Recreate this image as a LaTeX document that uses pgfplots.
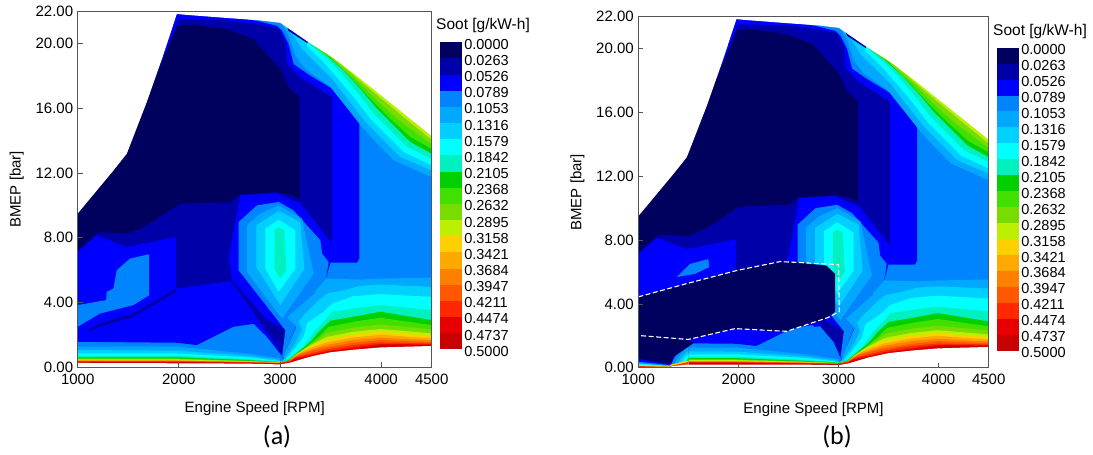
\documentclass[border=0pt]{standalone}
\usepackage{fontspec}
\setmainfont{Liberation Sans}
\newfontfamily\capfont{Carlito}
\usepackage{pgfplots}
\pgfplotsset{compat=1.18}
\definecolor{c0}{HTML}{00005F}
\definecolor{c1}{HTML}{0000A8}
\definecolor{c2}{HTML}{0000FF}
\definecolor{c3}{HTML}{0085FF}
\definecolor{c4}{HTML}{00A8FF}
\definecolor{c5}{HTML}{00D0FF}
\definecolor{c6}{HTML}{00FFFF}
\definecolor{c7}{HTML}{00F0C0}
\definecolor{c8}{HTML}{00D000}
\definecolor{c9}{HTML}{40E000}
\definecolor{c10}{HTML}{78DC00}
\definecolor{c11}{HTML}{BCF000}
\definecolor{c12}{HTML}{FFD000}
\definecolor{c13}{HTML}{FFA800}
\definecolor{c14}{HTML}{FF8000}
\definecolor{c15}{HTML}{FF5800}
\definecolor{c16}{HTML}{FF2800}
\definecolor{c17}{HTML}{E80000}
\definecolor{c18}{HTML}{C80000}
\definecolor{frame}{HTML}{555555}
\newcommand\lab{\fontsize{14.5}{16}\selectfont}
\newcommand\labb{\fontsize{15}{17}\selectfont}
\newcommand\tit{\fontsize{15.5}{17}\selectfont}
\pgfplotsset{
  r/.style={draw=none,fill=#1,forget plot,mark=none},
  map/.style={
    scale only axis, xmin=1000, xmax=4500, ymin=0, ymax=22,
    axis on top, clip=true,
    axis line style={draw=frame,line width=.8pt},
    xtick={1000,2000,3000,4000,4500},
    xticklabels={1000,2000,3000,4000,4500},
    ytick={0,4,8,12,16,20,22},
    yticklabels={0.00,4.00,8.00,12.00,16.00,20.00,\raisebox{-2pt}{22.00}},
    tick style={draw=frame,line width=.7pt},
    tick align=inside, major tick length=5pt,
    xtick pos=bottom, ytick pos=left,
    tick label style={font=\labb},
    xticklabel style={yshift=-3pt},
    yticklabel style={xshift=-1pt},
    label style={font=\labb},
  },
  cbar/.style={
    scale only axis, xmin=0, xmax=1, ymin=0, ymax=19, y dir=reverse,
    axis line style={draw=none},
    xtick=\empty,
    ytick={0,...,19},
    yticklabels={0.0000,0.0263,0.0526,0.0789,0.1053,0.1316,0.1579,0.1842,0.2105,0.2368,0.2632,0.2895,0.3158,0.3421,0.3684,0.3947,0.4211,0.4474,0.4737,0.5000},
    ytick pos=right, yticklabel pos=right,
    major tick length=0pt,
    tick label style={font=\lab},
    yticklabel style={xshift=-1.5pt,yshift=-2pt},
  },
}
\newcommand\upperlayers{%
\addplot[r=c11] coordinates {(1000,22)(4500,22)(4500,0)(1000,0)};
\addplot[r=c10] coordinates {(1000,22)(3284,22)(3284,20.10)(3564,18.95)(3828,17.51)(4026,16.48)(4224,15.45)(4500,14.05)(4500,0)(1000,0)};
\addplot[r=c9] coordinates {(1000,22)(3284,22)(3284,20.10)(3531,18.95)(3762,17.72)(3960,16.48)(4158,15.35)(4500,13.77)(4500,0)(1000,0)};
\addplot[r=c8] coordinates {(1000,22)(3284,22)(3284,20.06)(3498,19.16)(3696,17.92)(3894,16.58)(4092,15.35)(4290,14.22)(4500,13.50)(4500,0)(1000,0)};
\addplot[r=c7] coordinates {(1000,22)(3300,22)(3300,20.02)(3465,19.26)(3630,18.33)(3795,17.20)(3960,15.97)(4125,14.94)(4290,13.91)(4500,13.19)(4500,0)(1000,0)};
\addplot[r=c6] coordinates {(1000,22)(3300,22)(3300,19.94)(3449,19.16)(3597,18.23)(3762,17.00)(3927,15.66)(4092,14.63)(4257,13.60)(4500,12.88)(4500,0)(1000,0)};
\addplot[r=c5] coordinates {(1000,22)(3267,22)(3267,19.84)(3416,18.95)(3548,18.02)(3729,16.69)(3894,15.35)(4059,14.32)(4224,13.29)(4500,12.47)(4500,0)(1000,0)};
\addplot[r=c4] coordinates {(1000,22)(3053,22)(3053,21.01)(3135,20.49)(3218,19.67)(3366,18.74)(3515,17.82)(3680,16.48)(3861,15.04)(4026,14.01)(4191,12.98)(4500,12.16)(4500,0)(1000,0)};
\addplot[r=c3] coordinates {(1000,22)(3010,22)(3010,21.32)(3086,20.49)(3152,19.26)(3251,18.44)(3482,17.41)(3630,16.28)(3795,14.94)(3960,13.81)(4125,12.78)(4500,11.75)(4500,0)(1000,0)};
% 0.0526 field
\addplot[r=c2] coordinates {(1000,22)(2200,22)(2772,21.42)(2970,21.11)(3020,20.80)(3085,19.98)(3135,18.74)(3284,18.09)(3505,17.26)(3785,15.04)(3785,6.71)(3762,6.46)(3498,6.46)(3399,7.63)(3455,5.47)(3062,3.15)(3036,0.50)(3000,0.84)(2870,1.87)(2740,2.67)(2540,2.49)(2178,1.36)(1980,1.50)(1000,1.56)};
% 0.0263 field
\addplot[r=c1] coordinates {(1000,22)(1683,22)(1683,16.69)(1997,21.52)(2475,21.46)(2772,21.21)(2987,20.97)(3053,20.08)(3069,18.74)(3201,17.92)(3515,16.69)(3515,7.74)(3399,7.84)(3069,2.28)(3020,0.84)(2970,1.26)(2525,5.33)(2211,5.06)(1974,4.86)(1974,8.05)(1485,7.43)(1188,8.15)(1000,7.12)};
\addplot[r=c1] coordinates {(1106,2.28)(1221,2.70)(1551,3.31)(1974,4.86)(1974,4.65)(1551,3.11)(1221,2.49)(1106,2.18)};
\addplot[r=c1] coordinates {(3069,21.05)(3284,20.14)(3269,20.05)(3085,20.80)};
% core
\addplot[r=c0] coordinates {(1000,22)(1683,22)(1683,16.69)(1997,21.17)(2178,21.17)(2475,20.91)(2739,20.29)(3003,18.44)(3086,17.30)(3194,16.69)(3194,10.31)(3135,10.62)(2970,10.82)(2607,10.68)(2508,10.21)(2013,10.10)(1683,8.77)(1502,8.25)(1205,8.35)(1000,7.22)};
% hexagon
\addplot[r=c2] coordinates {(2508,7.33)(2607,10.62)(2970,10.76)(3135,10.27)(3195,10.21)(3515,7.63)(3498,6.46)(3455,5.47)(3036,0.84)(3003,1.10)(2525,5.41)(2492,6.81)};
\addplot[r=c1] coordinates {(2525,5.41)(2870,2.90)(3060,2.30)(3020,0.84)(2985,1.40)(2860,2.40)(2515,5.30)};
\addplot[r=c3] coordinates {(2591,8.97)(2772,10.00)(2987,10.21)(3135,9.69)(3399,7.84)(3416,7.02)(3482,6.50)(3455,5.47)(3350,4.65)(3062,3.15)(3161,2.59)(3036,0.64)(3020,0.60)(3053,2.28)(2591,5.99)};
\addplot[r=c4] coordinates {(3455,5.47)(3795,5.41)(3993,5.47)(4500,5.53)(4500,0)(3036,0)(3036,0.64)(3161,2.49)(3062,3.15)(3350,4.69)};
\addplot[r=c4] coordinates {(2673,8.77)(2805,9.49)(2987,10.00)(3218,9.18)(3333,5.78)(3020,3.00)(2673,5.88)};
\addplot[r=c3] coordinates {(3053,3.15)(3333,4.69)(3350,4.61)(3069,3.07)};
\addplot[r=c5] coordinates {(2766,8.77)(2987,9.65)(3201,8.97)(3241,6.09)(3003,3.83)(2766,6.19)};
\addplot[r=c6] coordinates {(2855,8.56)(2987,9.12)(3152,8.46)(3152,6.09)(2987,4.65)(2855,6.09)};
\addplot[r=c7] coordinates {(2944,8.46)(2987,8.66)(3043,8.46)(3063,5.99)(3003,5.47)(2944,6.09)};
}
\newcommand\lowerlayers{%
\addplot[r=c5] coordinates {(4500,4.96)(3993,5.10)(3795,5.02)(3630,4.75)(3465,4.55)(3350,3.93)(3234,3.21)(3185,2.80)(3218,2.28)(3152,1.46)(3036,0.43)(3036,0)(4500,0)};
\addplot[r=c6] coordinates {(4500,4.34)(3993,4.51)(3729,4.38)(3515,3.93)(3432,3.42)(3267,2.70)(3234,1.87)(3135,1.05)(3053,0.43)(3053,0)(4500,0)};
\addplot[r=c4] coordinates {(1000,1.26)(1980,1.26)(2670,0.84)(3000,0.53)(3000,0)(1000,0)};
\addplot[r=c5] coordinates {(1000,1.05)(1980,1.01)(2670,0.70)(3000,0.43)(3000,0)(1000,0)};
\addplot[r=c6] coordinates {(1000,0.84)(1980,0.84)(2670,0.60)(3000,0.37)(3000,0)(1000,0)};
\addplot[r=c7] coordinates {(1000,0.70)(1980,0.70)(2670,0.49)(3000,0.33)(3086,0.53)(3234,1.26)(3350,2.28)(3432,2.80)(3515,3.42)(3729,3.62)(3993,3.83)(4500,3.52)(4500,0)(1000,0)};
\addplot[r=c8] coordinates {(1000,0.60)(1980,0.60)(2670,0.43)(3000,0.31)(3086,0.43)(3185,0.95)(3300,1.56)(3399,2.28)(3498,2.86)(3762,3.15)(3993,3.42)(4500,2.90)(4500,0)(1000,0)};
\addplot[r=c9] coordinates {(1000,0.53)(1980,0.53)(2670,0.39)(3000,0.29)(3086,0.39)(3185,0.84)(3284,1.36)(3383,1.87)(3482,2.49)(3762,2.84)(3993,3.05)(4500,2.59)(4500,0)(1000,0)};
\addplot[r=c10] coordinates {(1000,0.49)(1980,0.49)(2670,0.37)(3000,0.29)(3086,0.37)(3168,0.80)(3267,1.26)(3366,1.67)(3465,2.12)(3729,2.45)(3993,2.63)(4500,2.33)(4500,0)(1000,0)};
\addplot[r=c11] coordinates {(1000,0.47)(1980,0.47)(2670,0.35)(3000,0.27)(3086,0.35)(3152,0.74)(3251,1.15)(3350,1.50)(3465,1.87)(3729,2.18)(3993,2.35)(4500,2.08)(4500,0)(1000,0)};
\addplot[r=c12] coordinates {(1000,0.43)(1980,0.43)(2670,0.33)(3000,0.27)(3086,0.33)(3152,0.68)(3234,1.05)(3333,1.36)(3449,1.67)(3729,2.00)(3993,2.16)(4500,1.91)(4500,0)(1000,0)};
\addplot[r=c13] coordinates {(1000,0.41)(1980,0.41)(2670,0.33)(3000,0.26)(3086,0.31)(3135,0.64)(3218,0.95)(3317,1.21)(3449,1.50)(3729,1.83)(3993,2.00)(4500,1.77)(4500,0)(1000,0)};
\addplot[r=c14] coordinates {(1000,0.39)(1980,0.39)(2670,0.31)(3000,0.25)(3086,0.29)(3119,0.53)(3201,0.84)(3317,1.09)(3449,1.36)(3729,1.67)(3993,1.81)(4500,1.65)(4500,0)(1000,0)};
\addplot[r=c15] coordinates {(1000,0.37)(1980,0.37)(2670,0.29)(3000,0.25)(3102,0.43)(3185,0.74)(3300,0.99)(3449,1.21)(3729,1.50)(3993,1.67)(4500,1.54)(4500,0)(1000,0)};
\addplot[r=c16] coordinates {(1000,0.35)(1980,0.35)(2670,0.29)(3000,0.23)(3102,0.37)(3168,0.64)(3300,0.84)(3465,1.09)(3729,1.36)(3993,1.52)(4500,1.46)(4500,0)(1000,0)};
\addplot[r=c17] coordinates {(1000,0.33)(1980,0.31)(2670,0.27)(3000,0.23)(3102,0.33)(3152,0.53)(3300,0.74)(3482,0.99)(3729,1.21)(3993,1.42)(4500,1.40)(4500,0)(1000,0)};
\addplot[r=c18] coordinates {(1000,0.31)(1980,0.29)(2670,0.25)(3000,0.21)(3102,0.29)(3135,0.47)(3300,0.68)(3498,0.95)(3729,1.11)(3993,1.32)(4500,1.36)(4500,0)(1000,0)};
}
\newcommand\uppermask{%
\addplot[r=white] coordinates {(1000,22)(4500,22)(4500,14.30)(3763,18.00)(3498,19.26)(3283,20.10)(3003,21.30)(2805,21.45)(2475,21.60)(2060,21.80)(1980,21.85)(1838,19.16)(1683,16.40)(1485,13.20)(1353,12.16)(1000,9.50)};
}
\newcommand\colorbar{%
\addplot[r=c0] coordinates {(0,0)(1,0)(1,1)(0,1)};
\addplot[r=c1] coordinates {(0,1)(1,1)(1,2)(0,2)};
\addplot[r=c2] coordinates {(0,2)(1,2)(1,3)(0,3)};
\addplot[r=c3] coordinates {(0,3)(1,3)(1,4)(0,4)};
\addplot[r=c4] coordinates {(0,4)(1,4)(1,5)(0,5)};
\addplot[r=c5] coordinates {(0,5)(1,5)(1,6)(0,6)};
\addplot[r=c6] coordinates {(0,6)(1,6)(1,7)(0,7)};
\addplot[r=c7] coordinates {(0,7)(1,7)(1,8)(0,8)};
\addplot[r=c8] coordinates {(0,8)(1,8)(1,9)(0,9)};
\addplot[r=c9] coordinates {(0,9)(1,9)(1,10)(0,10)};
\addplot[r=c10] coordinates {(0,10)(1,10)(1,11)(0,11)};
\addplot[r=c11] coordinates {(0,11)(1,11)(1,12)(0,12)};
\addplot[r=c12] coordinates {(0,12)(1,12)(1,13)(0,13)};
\addplot[r=c13] coordinates {(0,13)(1,13)(1,14)(0,14)};
\addplot[r=c14] coordinates {(0,14)(1,14)(1,15)(0,15)};
\addplot[r=c15] coordinates {(0,15)(1,15)(1,16)(0,16)};
\addplot[r=c16] coordinates {(0,16)(1,16)(1,17)(0,17)};
\addplot[r=c17] coordinates {(0,17)(1,17)(1,18)(0,18)};
\addplot[r=c18] coordinates {(0,18)(1,18)(1,19)(0,19)};
}
\begin{document}
\begin{tikzpicture}
\path[use as bounding box] (0,0) rectangle (1093pt,455pt);
% ---------- (a)
\begin{axis}[map, at={(77.7pt,88pt)}, anchor=south west, width=354pt, height=355.5pt,
  xlabel={Engine Speed [RPM]}, ylabel={BMEP [bar]},
  xlabel style={yshift=-11pt}, ylabel style={yshift=5pt}]
\upperlayers
\addplot[r=c3] coordinates {(1000,2.49)(1221,3.31)(1551,3.83)(1706,4.44)(1706,6.98)(1518,6.71)(1386,5.99)(1353,4.86)(1287,4.65)(1281,4.14)(1000,3.83)};
\lowerlayers
\uppermask
\addplot[r=white] coordinates {(1000,0.25)(1980,0.23)(2670,0.21)(3003,0.16)(3102,0.27)(3300,0.64)(3498,0.91)(3729,1.07)(3993,1.21)(4500,1.30)(4500,0)(1000,0)};
\end{axis}
\begin{axis}[cbar, at={(440pt,105.7pt)}, anchor=south west, width=22.3pt, height=307pt]
\colorbar
\end{axis}
\node[anchor=west,font=\tit,inner sep=0pt] at (436pt,429.3pt) {Soot [g/kW-h]};
\node[font=\capfont\fontsize{26}{28}\selectfont,inner sep=0pt] at (277pt,18pt) {(a)};
% ---------- (b)
\begin{axis}[map, at={(638.3pt,87.3pt)}, anchor=south west, width=350.4pt, height=351pt,
  xlabel={Engine Speed [RPM]}, ylabel={BMEP [bar]},
  xlabel style={yshift=-11pt}, ylabel style={yshift=5pt}]
\upperlayers
\addplot[r=c3] coordinates {(1383,5.68)(1516,6.50)(1699,6.81)(1709,6.30)(1566,5.88)};
\addplot[r=c3] coordinates {(1550,1.46)(2149,1.26)(2449,1.98)(2732,2.53)(2815,2.59)(2950,1.60)(3000,0.90)(3000,0.50)(1550,0.50)};
\lowerlayers
\addplot[r=c2] coordinates {(1000,1.00)(1500,1.60)(1500,0)(1000,0)};
\addplot[r=c3] coordinates {(1316,0)(1366,0.74)(1500,1.55)(1500,0)};
\addplot[r=c4] coordinates {(1340,0)(1400,0.70)(1500,1.30)(1500,0)};
\addplot[r=c5] coordinates {(1370,0)(1440,0.70)(1500,1.05)(1500,0)};
\addplot[r=c6] coordinates {(1400,0)(1460,0.60)(1500,0.85)(1500,0)};
\addplot[r=c8] coordinates {(1440,0)(1500,0.60)(1500,0)};
\addplot[r=c3] coordinates {(1000,0.37)(1340,0.15)(1340,0)(1000,0)};
\addplot[r=c6] coordinates {(1000,0.27)(1340,0.10)(1340,0)(1000,0)};
\addplot[r=c11] coordinates {(1000,0.17)(1340,0.07)(1340,0)(1000,0)};
\addplot[r=c12] coordinates {(1316,0.18)(1500,0.45)(1500,0)(1316,0)};
\addplot[r=c16] coordinates {(1316,0.10)(1500,0.35)(1500,0)(1316,0)};
\addplot[r=c16] coordinates {(1000,0.10)(1340,0.05)(1340,0)(1000,0)};
\addplot[r=c0] coordinates {(1000,2.02)(1500,1.77)(1556,1.56)(1366,0.74)(1316,0.23)(1000,0.55)};
\addplot[r=c0] coordinates {(1000,4.44)(1483,5.27)(1982,6.09)(2415,6.65)(2582,6.60)(2880,6.40)(2965,5.88)(2965,3.52)(2898,3.15)(2482,2.28)(1966,2.45)(1500,1.77)(1000,2.02)};
\uppermask
\addplot[r=white] coordinates {(1000,0.04)(1316,0.04)(1340,0.10)(1500,0.20)(1980,0.20)(2670,0.19)(3003,0.16)(3102,0.27)(3300,0.64)(3498,0.91)(3729,1.07)(3993,1.21)(4500,1.30)(4500,0)(1000,0)};
\addplot[white,line width=1.1pt,dash pattern=on 5pt off 2.5pt,forget plot,mark=none] coordinates {(1000,4.44)(1483,5.27)(1982,6.09)(2415,6.65)(2582,6.60)(3000,6.46)(3008,3.52)(2898,3.15)(2482,2.28)(1966,2.45)(1500,1.77)(1000,2.02)(1000,4.44)};
\end{axis}
\begin{axis}[cbar, at={(996.7pt,104.3pt)}, anchor=south west, width=22.6pt, height=303pt]
\colorbar
\end{axis}
\node[anchor=west,font=\tit,inner sep=0pt] at (993pt,424pt) {Soot [g/kW-h]};
\node[font=\capfont\fontsize{26}{28}\selectfont,inner sep=0pt] at (837pt,18pt) {(b)};
\end{tikzpicture}
\end{document}
